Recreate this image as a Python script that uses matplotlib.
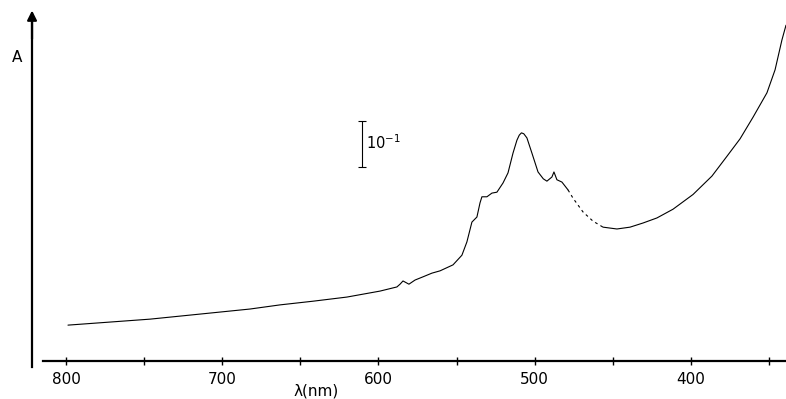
import matplotlib.pyplot as plt
import numpy as np

# absorption spectrum (wavelength in nm, absorbance)
wavelength = np.array([798.7, 746.2, 714.2, 682.2, 663.0, 641.9, 620.2, 599.0, 588.2,
                       586.2, 584.3, 580.5, 576.6, 571.5, 565.8, 560.6, 552.3, 546.6,
                       543.4, 540.2, 537.0, 535.0, 533.8, 530.6, 527.4, 524.2, 520.3,
                       517.1, 513.9, 511.4, 509.9, 508.5, 507.0, 505.0, 501.8, 497.9,
                       494.5, 492.2, 489.0, 487.7, 485.8, 482.6, 478.7, 475.5, 469.1,
                       462.7, 456.3, 447.4, 439.0, 430.7, 421.8, 411.5, 398.7, 386.6,
                       377.0, 368.6, 360.3, 351.4, 346.2, 341.8, 339.2])
absorbance = np.array([0.078, 0.091, 0.102, 0.113, 0.122, 0.130, 0.139, 0.152, 0.161,
                       0.167, 0.174, 0.167, 0.176, 0.183, 0.191, 0.196, 0.209, 0.230,
                       0.259, 0.302, 0.313, 0.344, 0.357, 0.357, 0.365, 0.367, 0.387,
                       0.409, 0.452, 0.480, 0.491, 0.496, 0.494, 0.485, 0.452, 0.411,
                       0.396, 0.391, 0.400, 0.411, 0.394, 0.389, 0.372, 0.354, 0.324,
                       0.304, 0.291, 0.287, 0.291, 0.300, 0.311, 0.330, 0.362, 0.402,
                       0.445, 0.483, 0.530, 0.583, 0.633, 0.698, 0.730])

major_ticks = [800, 700, 600, 500, 400]
minor_ticks = [750, 650, 550, 450, 350]
gap = (456.3, 478.7)  # part of the trace that is broken in the original

fig = plt.figure(figsize=(7.86, 3.99), dpi=100)
ax = fig.add_axes([0, 0, 1, 1])
ax.set_xlim(842.2, 339.2)
ax.set_ylim(-0.0826, 0.7848)

solid_l = wavelength >= gap[1]
solid_r = wavelength <= gap[0]
mid = (wavelength >= gap[0]) & (wavelength <= gap[1])
line_kw = dict(color="black", lw=0.8, solid_joinstyle="round", solid_capstyle="round")
ax.plot(wavelength[solid_l], absorbance[solid_l], **line_kw)
ax.plot(wavelength[solid_r], absorbance[solid_r], **line_kw)
ax.plot(wavelength[mid], absorbance[mid], color="black", lw=0.8, ls=(0, (2.5, 3)))

# axes drawn like the hand-made frame
for s in ["top", "right"]:
    ax.spines[s].set_visible(False)
ax.spines["bottom"].set_position(("data", 0))
ax.spines["bottom"].set_bounds(815, 339.2)
ax.spines["bottom"].set_linewidth(1.6)
ax.spines["left"].set_position(("data", 821.7))
ax.spines["left"].set_bounds(-0.013, 0.745)
ax.spines["left"].set_linewidth(1.6)
ax.annotate("", xy=(821.7, 0.762), xytext=(821.7, 0.70),
            arrowprops=dict(arrowstyle="-|>", color="black", lw=1.6,
                            mutation_scale=14, shrinkA=0, shrinkB=0))

ax.set_yticks([])
ax.set_xticks(major_ticks)
ax.set_xticks(minor_ticks, minor=True)
ax.tick_params(axis="x", which="both", direction="inout", length=6, width=1,
               labelsize=11, pad=5)
ax.tick_params(axis="x", which="minor", labelbottom=False)

# scale bar of 0.1 absorbance
ax.errorbar(610.6, 0.472, yerr=0.05, color="black", lw=0.8, capsize=3, capthick=0.8)
ax.text(608.0, 0.474, "10$^{-1}$", ha="left", va="center", fontsize=10.5)

fig.text(17 / 786, 1 - 57 / 399, "A", ha="center", va="center", fontsize=11)
fig.text(316 / 786, 1 - 391 / 399, "λ(nm)", ha="center", va="center", fontsize=11)

fig.savefig("out.png", dpi=100)
